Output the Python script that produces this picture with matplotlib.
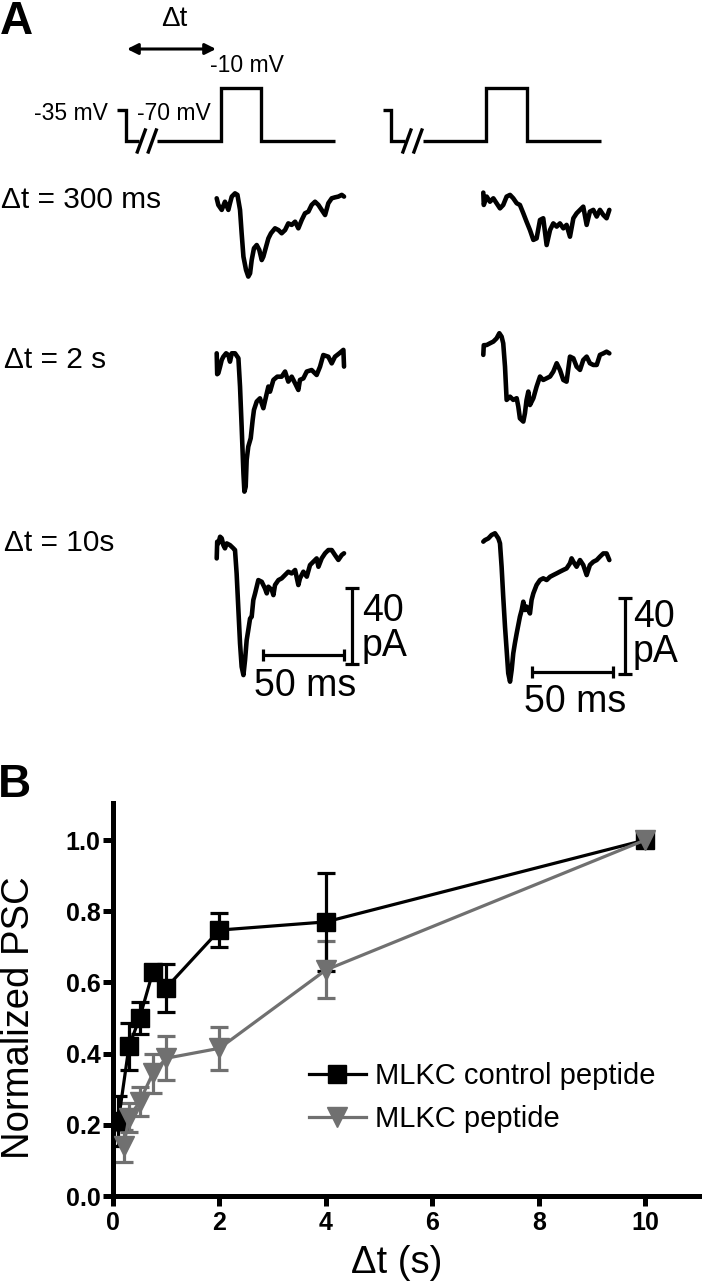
import numpy as np
import matplotlib
matplotlib.use('Agg')
import matplotlib.pyplot as plt

plt.rcParams['font.family'] = ['Liberation Sans', 'DejaVu Sans']

# ---------------- Panel B data ----------------
ctrl_x = [0.1, 0.3, 0.5, 0.75, 1, 2, 4, 10]
ctrl_y = [0.21, 0.42, 0.50, 0.63, 0.585, 0.747, 0.77, 1.0]
ctrl_err = [0.07, 0.065, 0.045, 0.02, 0.068, 0.048, 0.138, 0.0]

pep_x = [0.2, 0.3, 0.5, 0.75, 1, 2, 4, 10]
pep_y = [0.14, 0.22, 0.265, 0.345, 0.387, 0.415, 0.635, 1.0]
pep_err = [0.045, 0.04, 0.04, 0.055, 0.062, 0.06, 0.08, 0.0]

series_labels = ['MLKC control peptide', 'MLKC peptide']
xticks = [0, 2, 4, 6, 8, 10]
yticks = [0.0, 0.2, 0.4, 0.6, 0.8, 1.0]

# ---------------- Panel A data: PSC traces (time ms, current pA) ----------------
tr300_ctrl = [(0, 0), (1.0, -3.5), (3.1, -6.1), (5.1, -1.8), (7.2, -6.1), (8.2, -2.6), (9.3, 0.9),
              (11.3, 2.6), (12.8, 1.8), (14.4, -6.1), (15.4, -18.4), (16.5, -30.7), (18.1, -37.7),
              (19.5, -41.2), (20.6, -39.5), (21.6, -32.5), (23.0, -26.3), (24.7, -24.6), (26.3, -27.2),
              (27.8, -32.5), (28.8, -30.7), (30.5, -25.4), (31.9, -21.1), (33.5, -18.4), (36.0, -15.8),
              (38.1, -16.7), (40.1, -18.4), (42.2, -16.7), (44.2, -13.2), (46.3, -14.0), (48.4, -12.3),
              (50.4, -15.8), (52.5, -11.4), (54.5, -7.9), (56.6, -7.0), (58.6, -3.5), (60.7, -1.8),
              (62.8, -3.5), (64.8, -6.1), (66.9, -8.8), (68.9, -2.6), (71.0, 0), (73.0, 0.5),
              (75.1, 0.9), (77.2, 1.8), (78.6, 0.9)]

tr300_pep = [(0, 3), (0.3, -3.5), (2.1, 0.9), (4.1, -1.8), (6.2, 0), (8.2, -2.6), (10.3, -5.3),
             (12.3, -3.5), (14.4, 0.9), (16.5, 1.8), (18.5, 0), (20.6, -2.6), (22.6, -3.5),
             (24.7, -7.9), (26.7, -12.3), (28.8, -16.7), (30.9, -21.9), (32.9, -21.1), (35.0, -11.4),
             (37.0, -10.5), (39.1, -24.6), (41.2, -16.7), (43.2, -13.2), (45.3, -14.9), (47.3, -13.2),
             (49.4, -15.8), (51.4, -14.0), (53.5, -20.2), (55.6, -10.5), (57.6, -7.9), (59.7, -6.1),
             (61.7, -4.4), (63.8, -14.0), (65.8, -7.0), (67.9, -6.1), (70.0, -9.6), (72.0, -6.1),
             (74.1, -8.8), (76.1, -10.5), (77.8, -6.1)]

tr2s_ctrl = [(0, 0), (0.3, -11), (1.0, -10.5), (2.1, -7.0), (3.1, -3.5), (4.1, -1.8), (5.8, 0),
             (7.2, -0.9), (8.2, -4.4), (9.3, 0), (11.3, 0), (13.4, -2.6), (14.4, -17.5),
             (15.4, -38.6), (16.5, -63.2), (17.1, -72.8), (17.9, -70.2), (18.5, -56.1), (19.5, -49.1),
             (21.0, -44.7), (22.2, -35.1), (23.0, -29.8), (24.7, -25.4), (26.7, -23.7), (28.8, -28.9),
             (30.9, -21.1), (31.9, -17.5), (32.9, -20.2), (35.0, -14.0), (37.4, -12.3), (40.1, -12.3),
             (42.2, -9.6), (44.2, -14.9), (46.3, -12.3), (48.4, -15.8), (50.4, -19.3), (51.4, -14.0),
             (53.5, -13.2), (55.6, -9.6), (58.6, -8.8), (61.7, -11.4), (63.8, -7.0), (65.8, -0.9),
             (68.9, -1.8), (71.0, -5.3), (73.0, -1.8), (75.7, 0), (78.2, 1.8), (78.6, -7.0)]

tr2s_pep = [(0, -6.1), (0.3, -1.0), (2.1, -0.9), (4.1, 0), (6.2, 0.9), (8.2, 2.6), (9.9, 5.3),
            (11.3, 3.5), (12.3, 0), (13.4, -12.3), (14.4, -29.8), (16.5, -28.1), (18.5, -29.8),
            (20.6, -28.9), (21.6, -33.3), (22.6, -39.5), (24.7, -41.2), (25.7, -36.8), (26.7, -29.8),
            (27.8, -25.4), (28.8, -32.5), (30.9, -28.9), (32.9, -22.8), (35.0, -17.5), (37.0, -19.3),
            (39.1, -18.4), (41.2, -17.5), (43.2, -14.9), (45.3, -10.5), (47.3, -14.0), (49.4, -19.3),
            (51.4, -20.2), (53.5, -7.0), (55.6, -7.9), (57.6, -12.3), (59.7, -14.0), (61.7, -8.8),
            (63.8, -7.0), (65.8, -10.5), (67.9, -11.4), (70.0, -11.4), (72.0, -6.1), (74.1, -5.3),
            (76.1, -4.4), (77.8, -5.3)]

tr10s_ctrl = [(0, -8.8), (0.3, 0), (1.0, -0.9), (2.1, 2.6), (3.1, 1.8), (4.1, -1.8), (5.1, -3.5),
              (6.2, -0.9), (8.2, -1.8), (10.3, -3.5), (11.3, -4.4), (12.3, -16.7), (13.4, -36.0),
              (14.4, -53.5), (15.4, -65.8), (16.5, -70.2), (17.5, -62.3), (18.5, -51.8), (19.5, -46.5),
              (20.6, -40.4), (21.6, -39.5), (22.6, -30.7), (23.7, -27.2), (25.7, -20.2), (27.8, -21.1),
              (29.8, -24.6), (30.9, -27.2), (31.9, -23.7), (34.0, -25.4), (35.0, -28.1), (36.0, -22.8),
              (38.1, -20.2), (40.1, -19.3), (42.2, -17.5), (44.2, -15.8), (46.3, -16.7), (48.4, -14.9),
              (50.4, -22.8), (51.4, -19.3), (53.5, -15.8), (55.6, -18.4), (57.6, -12.3), (59.7, -10.5),
              (61.7, -8.8), (62.8, -13.2), (64.8, -8.8), (66.9, -6.1), (68.9, -4.4), (71.0, -4.4),
              (73.0, -7.0), (75.1, -9.6), (77.2, -7.0), (78.6, -6.1)]

tr10s_pep = [(0, -2.6), (1.0, -1.8), (3.1, -0.9), (5.1, 0.9), (7.2, 1.8), (9.3, -0.9), (10.3, -3.5),
             (11.3, -15.8), (12.3, -31.6), (13.4, -47.4), (14.4, -59.6), (15.4, -71.9), (16.5, -76.3),
             (17.5, -70.2), (18.5, -61.4), (19.5, -56.1), (20.6, -50.9), (21.6, -46.5), (22.6, -42.1),
             (23.7, -38.6), (24.7, -34.2), (25.7, -38.6), (26.7, -36.8), (28.8, -40.4), (29.8, -33.3),
             (30.9, -29.8), (32.9, -25.4), (35.0, -22.8), (37.0, -21.9), (39.1, -22.8), (41.2, -21.1),
             (43.2, -20.2), (45.3, -19.3), (47.3, -18.4), (49.4, -17.5), (51.4, -16.7), (53.5, -14.0),
             (54.5, -11.4), (55.6, -13.2), (57.6, -15.8), (59.7, -12.3), (61.7, -14.9), (63.8, -20.2),
             (65.8, -14.9), (67.9, -13.2), (70.0, -12.3), (72.0, -10.5), (74.1, -8.8), (76.1, -8.8),
             (77.8, -12.3)]

row_labels = ['\u0394t = 300 ms', '\u0394t = 2 s', '\u0394t = 10s']

# voltage protocol (schematic time units, mV), split at the axis break
proto_pre_t = [0, 8.5, 8.5, 22]
proto_pre_v = [-35, -35, -70, -70]
proto_post_t = [40, 103.5, 103.5, 144, 144, 218]
proto_post_v = [-70, -70, -10, -10, -70, -70]
proto_break_t = [24, 35]
proto_texts = ['-35 mV', '-70 mV', '-10 mV']

scale_ms = 50
scale_pa = 40

# ---------------- figure ----------------
W, H = 702, 1288
fig = plt.figure(figsize=(W / 100, H / 100), dpi=100)
fig.patch.set_facecolor('white')

# overlay axis in pixel units for panel A and labels
axA = fig.add_axes([0, 0, 1, 1])
axA.set_xlim(0, W)
axA.set_ylim(H, 0)
axA.axis('off')

PX_MS = 1.62
PX_PA = 1.9


def draw_trace(pairs, x0, y0):
    t = np.array([p[0] for p in pairs])
    i = np.array([p[1] for p in pairs])
    axA.plot(x0 + t * PX_MS, y0 - i * PX_PA, color='black', lw=3.3,
             solid_joinstyle='round', solid_capstyle='round')


trace_sets = [(tr300_ctrl, tr300_pep), (tr2s_ctrl, tr2s_pep), (tr10s_ctrl, tr10s_pep)]
left_x0, right_x0 = 216.7, 483.3
left_base = [198.3, 353.3, 541.7]
right_base = [198.3, 343.3, 536.7]
label_y = [200, 360, 543]
label_x = [1, 4, 4]
for k, (lt, rt) in enumerate(trace_sets):
    draw_trace(lt, left_x0, left_base[k])
    draw_trace(rt, right_x0, right_base[k])
    axA.text(label_x[k], label_y[k], row_labels[k], fontsize=21.5, ha='left', va='center')

# scale bars


def scale_bars(hx, hy, vx, vy_bottom, tx_40, ty_40, ty_pa, tx_ms, ty_ms):
    hl = scale_ms * PX_MS
    vl = scale_pa * PX_PA
    kw = dict(color='black', lw=2.3, solid_capstyle='butt')
    axA.plot([hx, hx + hl], [hy, hy], **kw)
    axA.plot([hx, hx], [hy - 6, hy + 6], **kw)
    axA.plot([hx + hl, hx + hl], [hy - 6, hy + 6], **kw)
    axA.plot([vx, vx], [vy_bottom, vy_bottom - vl], **kw)
    axA.plot([vx - 7, vx + 7], [vy_bottom, vy_bottom], **kw)
    axA.plot([vx - 7, vx + 7], [vy_bottom - vl, vy_bottom - vl], **kw)
    axA.text(tx_40, ty_40, str(scale_pa), fontsize=27, ha='center', va='center')
    axA.text(tx_40 + 2, ty_pa, 'pA', fontsize=27, ha='center', va='center')
    axA.text(tx_ms, ty_ms, f'{scale_ms} ms', fontsize=27, ha='center', va='center')


scale_bars(263, 655, 352, 664, 383, 611, 646, 305, 686)
scale_bars(532, 672, 625, 674, 654, 617, 652, 575, 702)

# voltage protocol


def draw_protocol(x0):
    def py(v):
        return 141 - (np.array(v) + 70) * 0.89
    kw = dict(color='black', lw=2.4, solid_joinstyle='miter', solid_capstyle='butt')
    axA.plot(x0 + np.array(proto_pre_t), py(proto_pre_v), **kw)
    axA.plot(x0 + np.array(proto_post_t), py(proto_post_v), **kw)
    for bt in proto_break_t:
        axA.plot([x0 + bt - 4, x0 + bt + 4], [152, 130], color='black', lw=2.4)
    return py


draw_protocol(117.3)
draw_protocol(382.9)
axA.text(70.5, 113, proto_texts[0], fontsize=16.5, ha='center', va='center')
axA.text(173.5, 113, proto_texts[1], fontsize=16.5, ha='center', va='center')
axA.text(247, 65, proto_texts[2], fontsize=16.5, ha='center', va='center')
axA.text(174.5, 19, '\u0394t', fontsize=20, ha='center', va='center')
axA.annotate('', xy=(216, 49), xytext=(127, 49),
             arrowprops=dict(arrowstyle='<|-|>', lw=2.2, color='black',
                             mutation_scale=16, shrinkA=0, shrinkB=0))

axA.text(0, 22, 'A', fontsize=33, fontweight='bold', ha='left', va='center')
axA.text(-2, 785, 'B', fontsize=33, fontweight='bold', ha='left', va='center')

# ---------------- Panel B ----------------
axB = fig.add_axes([113 / W, 1 - 1196 / H, (700 - 113) / W, (1196 - 803) / H])
axB.set_facecolor('none')
gray = '#707070'

axB.errorbar(pep_x, pep_y, yerr=pep_err, fmt='none', ecolor=gray, elinewidth=2.3,
             capsize=6.5, capthick=2.3, zorder=2)
l1, = axB.plot(ctrl_x, ctrl_y, color='black', lw=2.3, marker='s', ms=12.5,
               label=series_labels[0], zorder=3)
axB.errorbar(ctrl_x, ctrl_y, yerr=ctrl_err, fmt='none', ecolor='black', elinewidth=2.3,
             capsize=6.5, capthick=2.3, zorder=4)
l2, = axB.plot(pep_x, pep_y, color=gray, lw=2.3, marker='v', ms=14,
               label=series_labels[1], zorder=5)

axB.set_xlim(0, 11.03)
axB.set_ylim(0, 1.104)
for s in ['top', 'right']:
    axB.spines[s].set_visible(False)
for s in ['left', 'bottom']:
    axB.spines[s].set_linewidth(3.6)
axB.set_xticks(xticks, labels=[str(v) for v in xticks], fontweight='bold', fontsize=18)
axB.set_yticks(yticks, labels=[f'{v:.1f}' for v in yticks], fontweight='bold', fontsize=18)
axB.tick_params(axis='both', direction='out', length=7, width=3.6)
axB.tick_params(axis='y', pad=2)
axB.tick_params(axis='x', pad=4)

axB.set_xlabel('\u0394t (s)', fontsize=27.5)
axB.xaxis.set_label_coords(0.484, -0.125)
axB.set_ylabel('Normalized PSC', fontsize=27.5)
axB.yaxis.set_label_coords(-0.129, 0.453)

axB.legend(handles=[l1, l2], loc='center left', bbox_to_anchor=(0.334, 0.25),
           frameon=False, fontsize=21, handlelength=1.95, handletextpad=0.3,
           labelspacing=0.5, borderpad=0, borderaxespad=0, numpoints=1)

fig.savefig('out.png', dpi=100, facecolor='white')
